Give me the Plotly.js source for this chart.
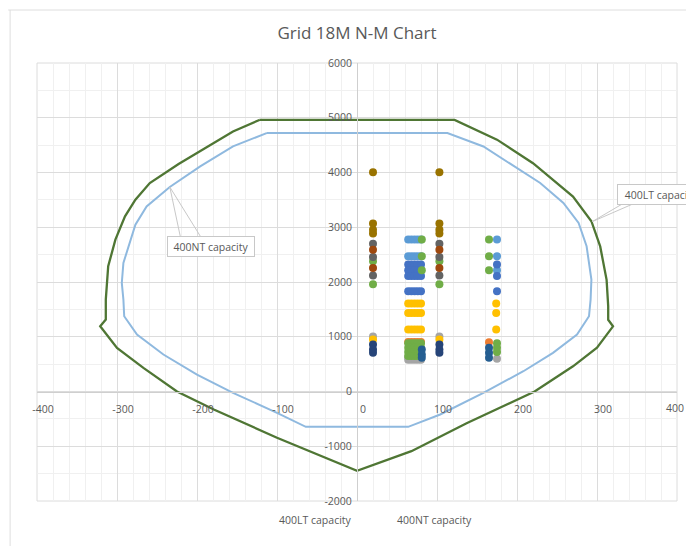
<!DOCTYPE html>
<html>
<head>
<meta charset="utf-8">
<script src="https://cdn.plot.ly/plotly-3.0.1.min.js"></script>
<style>
  html, body { margin: 0; padding: 0; background: #ffffff; }
  #chart { width: 686px; height: 546px; }
</style>
</head>
<body>
<div id="chart"></div>
<script>
// ---- Capacity curves (M on x, N on y) ----
const ltM = [-122, 122, 175, 220, 270, 293, 304, 312, 314, 314, 320, 300, 270, 222, 137, 68, 0,
             -100, -179, -225, -267, -300, -321, -314, -314, -311, -302, -290, -277, -259, -223, -175, -155, -122];
const ltN = [4960, 4960, 4600, 4170, 3560, 3110, 2650, 2040, 1560, 1310, 1190, 800, 460, 0, -580, -1090, -1450,
             -845, -328, 0, 432, 797, 1191, 1314, 1679, 2287, 2774, 3199, 3504, 3808, 4155, 4586, 4750, 4960];

const ntM = [-113, 113, 158, 191, 229, 258, 277, 287, 293, 292, 290, 275, 245, 208, 158, 104, 64,
             -64, -100, -155, -200, -242, -275, -291, -292, -294, -292, -277, -263, -234, -196, -155, -113];
const ntN = [4720, 4720, 4476, 4173, 3808, 3443, 3078, 2652, 2044, 1679, 1374, 1040, 706, 370, -24, -420, -645,
             -645, -389, -24, 310, 675, 1040, 1374, 1679, 1984, 2348, 3047, 3381, 3735, 4111, 4476, 4720];

// ---- Load points ----
const grayM = [20, 103, 64, 68, 72, 76, 80, 64, 68, 72, 76, 80, 175];
const grayN = [1005, 1005, 620, 620, 620, 620, 620, 580, 580, 580, 580, 580, 600];

const orangeM = [64, 68, 72, 76, 80, 165];
const orangeN = [905, 905, 905, 905, 905, 900];

const yellowM = [64, 68, 72, 76, 80, 64, 68, 72, 76, 80, 64, 68, 72, 76, 80, 174, 174, 174, 20, 103];
const yellowN = [1606, 1606, 1606, 1606, 1606, 1436, 1436, 1436, 1436, 1436, 1131, 1131, 1131, 1131, 1131, 1606, 1436, 1131, 949, 949];

const lightBlueM = [64, 68, 72, 76, 80, 64, 68, 72, 76, 80, 175, 175, 175];
const lightBlueN = [2774, 2774, 2774, 2774, 2774, 2470, 2470, 2470, 2470, 2470, 2774, 2470, 2214];

const blueM = [64, 68, 72, 76, 80, 64, 68, 72, 76, 80, 64, 68, 72, 76, 80, 64, 68, 72, 76, 80, 175, 175, 175];
const blueN = [2318, 2318, 2318, 2318, 2318, 2214, 2214, 2214, 2214, 2214, 2110, 2110, 2110, 2110, 2110,
               1831, 1831, 1831, 1831, 1831, 2318, 2110, 1831];

const greenM = [20, 20, 103, 103, 81, 81, 81, 165, 165, 165,
                64, 68, 72, 76, 80, 64, 68, 72, 76, 80, 64, 68, 72, 76, 80, 64, 68, 72, 76, 80, 175, 175, 175];
const greenN = [2378, 1958, 2378, 1958, 2774, 2470, 2214, 2774, 2470, 2214,
                880, 880, 880, 880, 880, 800, 800, 800, 800, 800, 720, 720, 720, 720, 720, 650, 650, 650, 650, 650, 880, 800, 720];

const brownM = [20, 20, 20, 20, 103, 103, 103, 103];
const brownN = [4005, 3070, 2956, 2885, 4005, 3070, 2956, 2885];

const darkGrayM = [20, 20, 20, 103, 103, 103];
const darkGrayN = [2700, 2458, 2120, 2700, 2458, 2120];

const rustM = [20, 20, 103, 103];
const rustN = [2590, 2257, 2590, 2257];

const darkBlueM = [20, 20, 20, 103, 103, 103];
const darkBlueN = [858, 766, 706, 858, 766, 706];

const steelBlueM = [81, 81, 81, 165, 165, 165];
const steelBlueN = [766, 675, 615, 797, 706, 615];

// ---- Text ----
const chartTitle = 'Grid 18M N-M Chart';
const ltName = '400LT capacity';
const ntName = '400NT capacity';
const xTickVals = [-400, -300, -200, -100, 0, 100, 200, 300, 400];
const xTickText = ['-400', '-300', '-200', '-100', '0', '100', '200', '300', ''];
const lastXTick = '400';
const yTickVals = [-2000, -1000, 0, 1000, 2000, 3000, 4000, 5000, 6000];

const FONT = '"Open Sans", "Noto Sans", sans-serif';
const TXT = '#595959';

function pts(m, n, color) {
  return { x: m, y: n, type: 'scatter', mode: 'markers', showlegend: false, hoverinfo: 'skip',
           marker: { color: color, size: 8, line: { width: 0 } } };
}

const traces = [
  { x: ltM, y: ltN, type: 'scatter', mode: 'lines', name: ltName, showlegend: false,
    line: { color: '#4f7634', width: 2.3 } },
  { x: ntM, y: ntN, type: 'scatter', mode: 'lines', name: ntName, showlegend: false,
    line: { color: '#8fb9df', width: 2 } },
  pts(grayM, grayN, '#a5a5a5'),
  pts(orangeM, orangeN, '#ed7d31'),
  pts(yellowM, yellowN, '#ffc000'),
  pts(lightBlueM, lightBlueN, '#5b9bd5'),
  pts(blueM, blueN, '#4472c4'),
  pts(greenM, greenN, '#70ad47'),
  pts(brownM, brownN, '#997300'),
  pts(darkGrayM, darkGrayN, '#636363'),
  pts(rustM, rustN, '#9e480e'),
  pts(darkBlueM, darkBlueN, '#264478'),
  pts(steelBlueM, steelBlueN, '#255e91')
];

const layout = {
  width: 686, height: 546,
  margin: { l: 37, r: 9, t: 63, b: 45, pad: 0 },
  paper_bgcolor: '#ffffff', plot_bgcolor: '#ffffff',
  font: { family: FONT, size: 10.5, color: TXT },
  title: { text: chartTitle, x: 0.5, xref: 'paper', y: 1 - 33 / 546, yref: 'container', yanchor: 'middle',
           font: { family: FONT, size: 17, color: TXT } },
  showlegend: false,
  xaxis: {
    range: [-400, 400], autorange: false, tickvals: xTickVals, ticktext: xTickText,
    anchor: 'free', position: 0.25,
    showgrid: true, gridcolor: '#dcdcdc', gridwidth: 1,
    minor: { dtick: 20, tick0: 0, showgrid: true, gridcolor: '#f0f0f0', gridwidth: 1, ticks: '' },
    zeroline: false, showline: true, linecolor: '#cfcfcf', linewidth: 1,
    ticks: 'outside', ticklen: 8, tickcolor: 'rgba(0,0,0,0)', ticklabelshift: 6,
    ticklabeloverflow: 'allow',
    tickfont: { family: FONT, size: 10.5, color: TXT }, fixedrange: true
  },
  yaxis: {
    range: [-2000, 6000], autorange: false, tickvals: yTickVals, ticktext: yTickVals.map(String),
    anchor: 'free', position: 0.5,
    showgrid: true, gridcolor: '#dcdcdc', gridwidth: 1,
    minor: { dtick: 500, tick0: 0, showgrid: true, gridcolor: '#f0f0f0', gridwidth: 1, ticks: '' },
    zeroline: false, showline: true, linecolor: '#cfcfcf', linewidth: 1,
    ticks: 'outside', ticklen: 3, tickcolor: 'rgba(0,0,0,0)',
    ticklabeloverflow: 'allow',
    tickfont: { family: FONT, size: 10.5, color: TXT }, fixedrange: true
  },
  shapes: [
    // outer chart frame: top and left edges only are visible
    { type: 'line', xref: 'paper', yref: 'paper', x0: -0.045, x1: 1.1, y0: 1.121, y1: 1.121,
      line: { color: '#dedede', width: 1 }, layer: 'below' },
    { type: 'line', xref: 'paper', yref: 'paper', x0: -0.042, x1: -0.042, y0: 1.121, y1: -0.11,
      line: { color: '#dedede', width: 1 }, layer: 'below' },
    // plot frame (outer gridlines)
    { type: 'rect', xref: 'paper', yref: 'paper', x0: 0, x1: 1, y0: 0, y1: 1,
      line: { color: '#dcdcdc', width: 1 }, fillcolor: 'rgba(0,0,0,0)', layer: 'below' },
    // callout leaders 400NT
    { type: 'line', xref: 'x', yref: 'y', x0: -234, y0: 3735, x1: -221, y1: 2840, line: { color: '#c8c8c8', width: 1 } },
    { type: 'line', xref: 'x', yref: 'y', x0: -234, y0: 3735, x1: -196, y1: 2840, line: { color: '#c8c8c8', width: 1 } },
    // callout leaders 400LT
    { type: 'line', xref: 'x', yref: 'y', x0: 294, y0: 3102, x1: 331, y1: 3420, line: { color: '#c8c8c8', width: 1 } },
    { type: 'line', xref: 'x', yref: 'y', x0: 294, y0: 3102, x1: 344, y1: 3420, line: { color: '#c8c8c8', width: 1 } }
  ],
  annotations: [
    // last x tick label, kept inside the page as in the reference
    { xref: 'x', yref: 'y', x: 398, y: -310, text: lastXTick, showarrow: false, xanchor: 'center', yanchor: 'middle',
      font: { family: FONT, size: 10.5, color: TXT } },
    { xref: 'x', yref: 'y', x: -183, y: 2655, text: ntName, showarrow: false,
      width: 86, height: 19, bgcolor: '#ffffff', bordercolor: '#c8c8c8', borderwidth: 1, borderpad: 0,
      font: { family: FONT, size: 10.5, color: TXT } },
    { xref: 'x', yref: 'y', x: 325, y: 3604, xanchor: 'left', text: ltName, showarrow: false,
      width: 86, height: 19, bgcolor: '#ffffff', bordercolor: '#c8c8c8', borderwidth: 1, borderpad: 0,
      font: { family: FONT, size: 10.5, color: TXT } },
    // bottom legend texts
    { xref: 'paper', yref: 'paper', x: (315 - 37) / 640, y: (501 - 529) / 438, text: ltName, showarrow: false,
      font: { family: FONT, size: 10.5, color: TXT } },
    { xref: 'paper', yref: 'paper', x: (434 - 37) / 640, y: (501 - 529) / 438, text: ntName, showarrow: false,
      font: { family: FONT, size: 10.5, color: TXT } }
  ]
};

Plotly.newPlot('chart', traces, layout, { staticPlot: true, displayModeBar: false });
</script>
</body>
</html>
